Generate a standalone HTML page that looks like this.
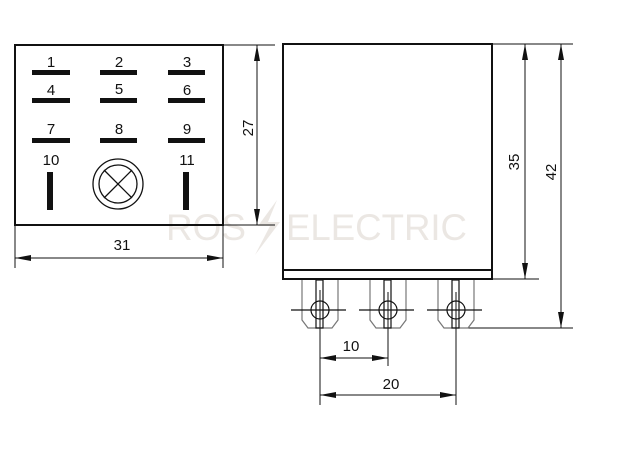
<!DOCTYPE html>
<html><head><style>html,body{margin:0;padding:0;background:#fff}svg{display:block}</style></head>
<body>
<svg width="634" height="459" viewBox="0 0 634 459" xmlns="http://www.w3.org/2000/svg" font-family="Liberation Sans, sans-serif">
<defs>
<marker id="a" viewBox="0 0 16 6" refX="16" refY="3" markerWidth="16" markerHeight="6" orient="auto-start-reverse" markerUnits="userSpaceOnUse"><path d="M0,0L16,3L0,6z" fill="#111"/></marker>
</defs>
<g fill="#ebe7e3" font-size="37">
<text x="166" y="240" textLength="80" lengthAdjust="spacingAndGlyphs">ROS</text>
<text x="286" y="240" textLength="181" lengthAdjust="spacingAndGlyphs">ELECTRIC</text>
<path d="M277,200 L258,226 L270,226 L255,255 L280,222 L268,222 Z"/>
</g>
<rect x="15" y="45" width="208" height="180" fill="none" stroke="#111" stroke-width="2"/>
<g fill="#111">
<rect x="32" y="70" width="38" height="5"/><rect x="100" y="70" width="37" height="5"/><rect x="168" y="70" width="37" height="5"/>
<rect x="32" y="98" width="38" height="5"/><rect x="100" y="98" width="37" height="5"/><rect x="168" y="98" width="37" height="5"/>
<rect x="32" y="138" width="38" height="5"/><rect x="100" y="138" width="37" height="5"/><rect x="168" y="138" width="37" height="5"/>
<rect x="47" y="172" width="6" height="38"/><rect x="183" y="172" width="6" height="38"/>
</g>
<g font-size="15" fill="#111" text-anchor="middle">
<text x="51" y="67">1</text><text x="119" y="67">2</text><text x="187" y="67">3</text>
<text x="51" y="95">4</text><text x="119" y="94">5</text><text x="187" y="95">6</text>
<text x="51" y="134">7</text><text x="119" y="134">8</text><text x="187" y="134">9</text>
<text x="51" y="165">10</text><text x="187" y="165">11</text>
<text x="122" y="250">31</text>
<text transform="translate(253,128) rotate(-90)">27</text>
<text transform="translate(519,162) rotate(-90)">35</text>
<text transform="translate(556,172) rotate(-90)">42</text>
<text x="351" y="351">10</text>
<text x="391" y="389">20</text>
</g>
<circle cx="118" cy="184" r="25" fill="none" stroke="#111" stroke-width="1.3"/>
<circle cx="118" cy="184" r="19" fill="none" stroke="#111" stroke-width="1.3"/>
<path d="M104,170L132,198M132,170L104,198" stroke="#111" stroke-width="1.3"/>
<g stroke="#111" stroke-width="1" fill="none">
<line x1="223" y1="45" x2="275" y2="45"/><line x1="223" y1="225" x2="275" y2="225"/>
<line x1="257" y1="45" x2="257" y2="225" marker-start="url(#a)" marker-end="url(#a)"/>
<line x1="15" y1="225" x2="15" y2="268"/><line x1="223" y1="225" x2="223" y2="268"/>
<line x1="15" y1="258" x2="223" y2="258" marker-start="url(#a)" marker-end="url(#a)"/>
<line x1="492" y1="44" x2="573" y2="44"/><line x1="492" y1="279" x2="539" y2="279"/>
<line x1="455" y1="328" x2="573" y2="328"/>
<line x1="525" y1="44" x2="525" y2="279" marker-start="url(#a)" marker-end="url(#a)"/>
<line x1="561" y1="44" x2="561" y2="328" marker-start="url(#a)" marker-end="url(#a)"/>
<line x1="320" y1="290" x2="320" y2="405"/><line x1="388" y1="292" x2="388" y2="366"/><line x1="456" y1="292" x2="456" y2="405"/>
<line x1="320" y1="358" x2="388" y2="358" marker-start="url(#a)" marker-end="url(#a)"/>
<line x1="320" y1="395" x2="456" y2="395" marker-start="url(#a)" marker-end="url(#a)"/>
</g>
<rect x="283" y="44" width="209" height="235" fill="none" stroke="#111" stroke-width="2"/>
<line x1="283" y1="270" x2="492" y2="270" stroke="#111" stroke-width="2"/>
<g stroke="#111" stroke-width="1.2" fill="none" transform="translate(320,0)">
<path d="M-18,280 V320 L-12,328 H12 L18,320 V280" stroke="#777"/><rect x="-4" y="280" width="7" height="48"/><circle cx="0" cy="310" r="9"/><line x1="-29" y1="310" x2="26" y2="310"/></g>
<g stroke="#111" stroke-width="1.2" fill="none" transform="translate(388,0)">
<path d="M-18,280 V320 L-12,328 H12 L18,320 V280" stroke="#777"/><rect x="-4" y="280" width="7" height="48"/><circle cx="0" cy="310" r="9"/><line x1="-29" y1="310" x2="26" y2="310"/></g>
<g stroke="#111" stroke-width="1.2" fill="none" transform="translate(456,0)">
<path d="M-18,280 V320 L-12,328 H12 L18,320 V280" stroke="#777"/><rect x="-4" y="280" width="7" height="48"/><circle cx="0" cy="310" r="9"/><line x1="-29" y1="310" x2="26" y2="310"/></g>
</svg>
</body></html>
